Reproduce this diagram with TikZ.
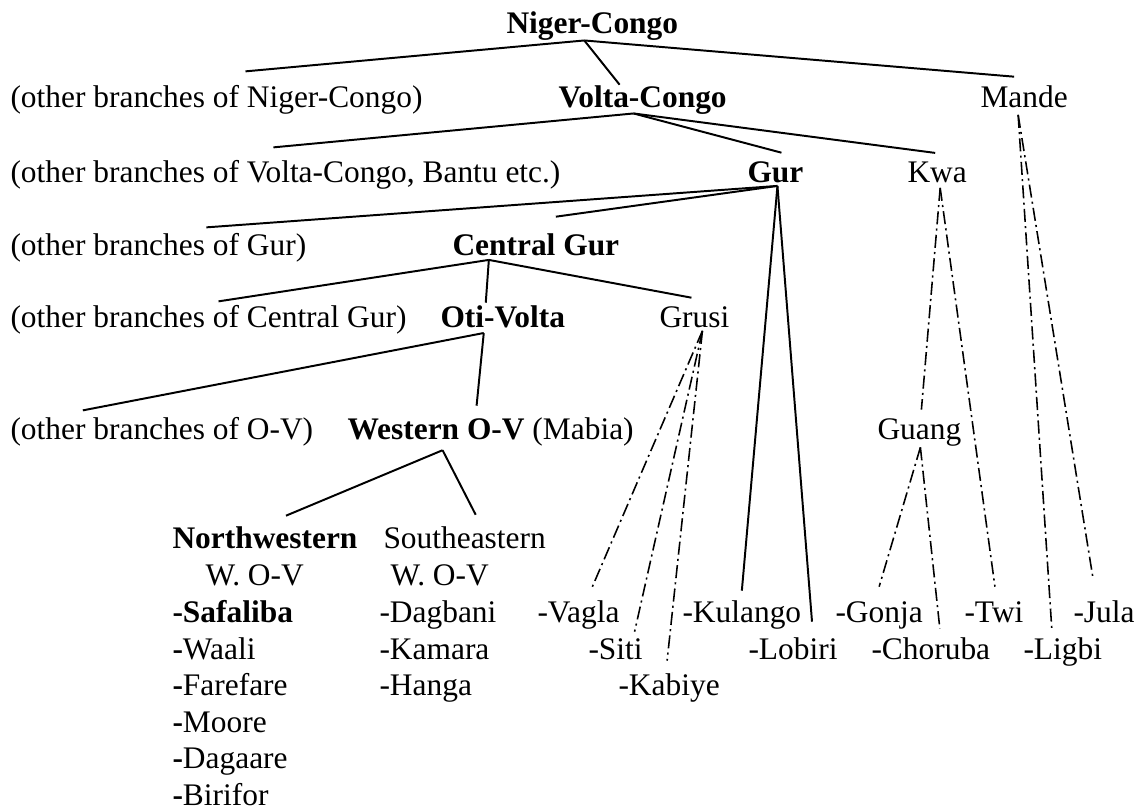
\documentclass[12pt,tikz,border=0pt]{standalone}
\usepackage{fontspec}
\setmainfont{Liberation Serif}

\begin{document}
\begin{tikzpicture}[
      x=0.382pt, y=-0.382pt,
      lang/.style={inner sep=0pt, anchor=base west},
      fam/.style={lang, font=\bfseries},
      link/.style={line width=0.75pt},
      dlink/.style={line width=0.6pt, dash pattern=on 5pt off 1.6pt on 0.8pt off 1.6pt},
    ]
    \useasboundingbox (0,0) rectangle (1141,811);
    % tree levels
    \node[fam] (nc) at (506,33) {Niger-Congo};
    \node[lang] (onc) at (10,107) {(other branches of Niger-Congo)};
    \node[fam] (vc) at (558,107) {Volta-Congo};
    \node[lang] (mande) at (980,107) {Mande};
    \node[lang] (ovc) at (10,182) {(other branches of Volta-Congo, Bantu etc.)};
    \node[fam] (gur) at (747,182) {Gur};
    \node[lang] (kwa) at (907,182) {Kwa};
    \node[lang] (ogur) at (10,255) {(other branches of Gur)};
    \node[fam] (cgur) at (452,255) {Central Gur};
    \node[lang] (ocg) at (10,327) {(other branches of Central Gur)};
    \node[fam] (ov) at (440,327) {Oti-Volta};
    \node[lang] (grusi) at (659,327) {Grusi};
    \node[lang] (oov) at (10,439) {(other branches of O-V)};
    \node[lang] (wov) at (347,439) {\textbf{Western O-V} (Mabia)};
    \node[lang] (guang) at (877,439) {Guang};
    \node[fam] (nw) at (172,548) {Northwestern};
    \node[lang] (nwsub) at (205,585) {W. O-V};
    \node[lang] (se) at (383,548) {Southeastern};
    \node[lang] (sesub) at (390,585) {W. O-V};
    % languages
    \node[fam] (safaliba) at (172,622) {-Safaliba};
    \node[lang] (waali) at (172,659) {\textbf{-}Waali};
    \node[lang] (farefare) at (172,695) {\textbf{-}Farefare};
    \node[lang] (moore) at (172,732) {\textbf{-}Moore};
    \node[lang] (dagaare) at (172,768) {\textbf{-}Dagaare};
    \node[lang] (birifor) at (172,805) {\textbf{-}Birifor};
    \node[lang] (dagbani) at (379,622) {-Dagbani};
    \node[lang] (kamara) at (379,659) {-Kamara};
    \node[lang] (hanga) at (379,695) {-Hanga};
    \node[lang] (vagla) at (537,622) {-Vagla};
    \node[lang] (kulango) at (682,622) {-Kulango};
    \node[lang] (gonja) at (835,622) {-Gonja};
    \node[lang] (twi) at (964,622) {-Twi};
    \node[lang] (jula) at (1073,622) {-Jula};
    \node[lang] (siti) at (588,659) {-Siti};
    \node[lang] (lobiri) at (748,659) {-Lobiri};
    \node[lang] (choruba) at (871,659) {-Choruba};
    \node[lang] (ligbi) at (1023,659) {-Ligbi};
    \node[lang] (kabiye) at (618,695) {-Kabiye};
    % branching points
    \coordinate (ncj) at ([shift={(-8,0)}]nc.south);
    \coordinate (vcj) at ([shift={(-9,-1)}]vc.south);
    \coordinate (gurj) at ([shift={(2,3)}]gur.south);
    \coordinate (cgurj) at ([shift={(-47,4)}]cgur.south);
    \coordinate (ovj) at ([shift={(-19,5)}]ov.south);
    \coordinate (wovj) at ([shift={(-48,4)}]wov.south);
    \coordinate (grusij) at ([shift={(8,3)}]grusi.south);
    \coordinate (kwaj) at ([shift={(3,5)}]kwa.south);
    \coordinate (guangj) at ([shift={(1,1)}]guang.south);
    \coordinate (mandej) at ([shift={(-6,7)}]mande.south);
    % solid branches
    \draw[link] (ncj) -- ([shift={(29,-13)}]onc.north);
    \draw[link] (ncj) -- ([shift={(-23,0)}]vc.north);
    \draw[link] (ncj) -- ([shift={(-10,-8)}]mande.north);
    \draw[link] (vcj) -- ([shift={(-12,-12)}]ovc.north);
    \draw[link] (vcj) -- ([shift={(6,-8)}]gur.north);
    \draw[link] (vcj) -- ([shift={(-2,-8)}]kwa.north);
    \draw[link] (gurj) -- ([shift={(48,-5)}]ogur.north);
    \draw[link] (gurj) -- ([shift={(20,-16)}]cgur.north);
    \draw[link] (gurj) -- ([shift={(0,-9)}]kulango.north);
    \draw[link] (gurj) -- ([shift={(19,-15)}]lobiri.north);
    \draw[link] (cgurj) -- ([shift={(10,-3)}]ocg.north);
    \draw[link] (cgurj) -- ([shift={(-17,-2)}]ov.north);
    \draw[link] (cgurj) -- ([shift={(-3,-8)}]grusi.north);
    \draw[link] (ovj) -- ([shift={(-79,-6)}]oov.north);
    \draw[link] (ovj) -- ([shift={(-14,-11)}]wov.north);
    \draw[link] (wovj) -- ([shift={(21,-10)}]nw.north);
    \draw[link] (wovj) -- ([shift={(11,-11)}]se.north);
    % dash-dot branches
    \draw[dlink] (grusij) -- ([shift={(13,-11)}]vagla.north);
    \draw[dlink] (grusij) -- ([shift={(19,-6)}]siti.north);
    \draw[dlink] (grusij) -- ([shift={(-2,-12)}]kabiye.north);
    \draw[dlink] (kwaj) -- ([shift={(2,-8)}]guang.north);
    \draw[dlink] (kwaj) -- ([shift={(1,-14)}]twi.north);
    \draw[dlink] (guangj) -- ([shift={(0,-14)}]gonja.north);
    \draw[dlink] (guangj) -- ([shift={(9,-8)}]choruba.north);
    \draw[dlink] (mandej) -- ([shift={(-11,-8)}]ligbi.north);
    \draw[dlink] (mandej) -- ([shift={(-11,-21)}]jula.north);
  \end{tikzpicture}
\end{document}
